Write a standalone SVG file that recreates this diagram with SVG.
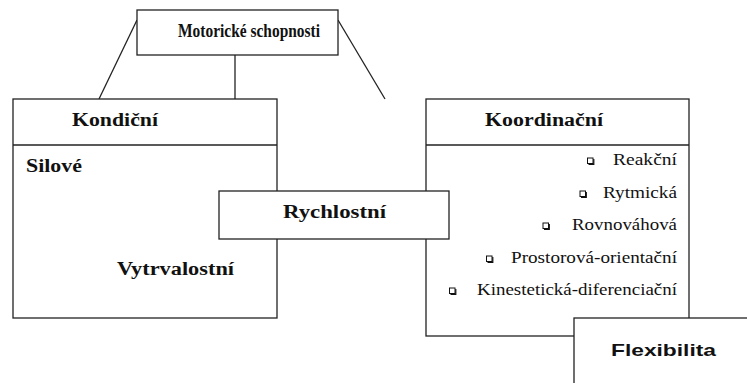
<svg xmlns="http://www.w3.org/2000/svg" width="747" height="383" viewBox="0 0 747 383">
<defs>
<g id="bullet">
<rect x="0.5" y="0.5" width="5.5" height="5.5" fill="#fff" stroke="#111" stroke-width="1"/>
<path d="M1.5 6.8 H6.8 V1.5" fill="none" stroke="#111" stroke-width="1.2"/>
</g>
</defs>
<style>
.box{fill:#fff;stroke:#222;stroke-width:1.3}
.ln{fill:none;stroke:#222;stroke-width:1.3}
.tb{font-family:"Liberation Serif","Times New Roman",serif;font-weight:bold;font-size:18.5px;fill:#111}
.tr{font-family:"Liberation Serif","Times New Roman",serif;font-size:16.5px;fill:#111}
.ta{font-family:"Liberation Sans",Arial,sans-serif;font-weight:bold;font-size:17px;fill:#111}
</style>
<rect width="747" height="383" fill="#fff"/>
<g id="connectors">
<line class="ln" x1="137" y1="20" x2="99" y2="99"/>
<line class="ln" x1="338" y1="20" x2="385" y2="99"/>
<line class="ln" x1="235" y1="55" x2="235" y2="191"/>
</g>
<g id="motoricke">
<rect class="box" x="137" y="10" width="201" height="45"/>
<text class="tb" x="178" y="37" textLength="142" lengthAdjust="spacingAndGlyphs">Motorické schopnosti</text>
</g>
<g id="kondicni">
<rect class="box" x="13" y="99" width="264" height="219"/>
<line class="ln" x1="13" y1="145" x2="277" y2="145"/>
<text class="tb" x="72" y="126" textLength="86" lengthAdjust="spacingAndGlyphs">Kondiční</text>
<text class="tb" x="26" y="172" textLength="56" lengthAdjust="spacingAndGlyphs">Silové</text>
<text class="tb" x="117" y="275" textLength="117" lengthAdjust="spacingAndGlyphs">Vytrvalostní</text>
</g>
<g id="koordinacni">
<rect class="box" x="426" y="99" width="263" height="237"/>
<line class="ln" x1="426" y1="145" x2="689" y2="145"/>
<text class="tb" x="485" y="126" textLength="118" lengthAdjust="spacingAndGlyphs">Koordinační</text>
<use href="#bullet" x="587" y="157.5"/>
<text class="tr" x="613" y="165" textLength="64" lengthAdjust="spacingAndGlyphs">Reakční</text>
<use href="#bullet" x="579.5" y="190.5"/>
<text class="tr" x="603" y="198" textLength="74" lengthAdjust="spacingAndGlyphs">Rytmická</text>
<use href="#bullet" x="542.5" y="222.5"/>
<text class="tr" x="572" y="230" textLength="105" lengthAdjust="spacingAndGlyphs">Rovnováhová</text>
<use href="#bullet" x="486" y="255.5"/>
<text class="tr" x="511" y="263" textLength="166" lengthAdjust="spacingAndGlyphs">Prostorová-orientační</text>
<use href="#bullet" x="449" y="287.5"/>
<text class="tr" x="477" y="295" textLength="200" lengthAdjust="spacingAndGlyphs">Kinestetická-diferenciační</text>
</g>
<g id="rychlostni">
<rect class="box" x="219" y="191" width="230" height="48"/>
<text class="tb" x="283" y="218" textLength="103" lengthAdjust="spacingAndGlyphs">Rychlostní</text>
</g>
<g id="flexibilita">
<rect class="box" x="574" y="318" width="180" height="80"/>
<text class="ta" x="611" y="356" textLength="105" lengthAdjust="spacingAndGlyphs">Flexibilita</text>
</g>
</svg>
